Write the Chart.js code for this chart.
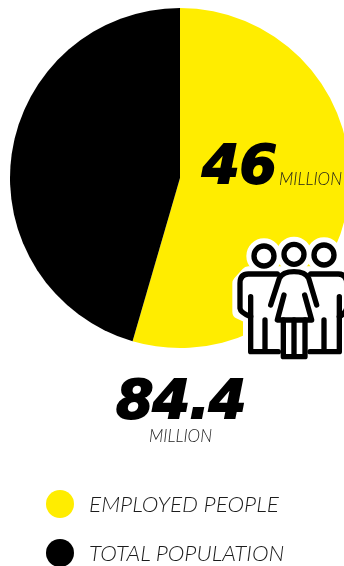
<!DOCTYPE html>
<html>
<head>
<meta charset="utf-8">
<title>Employed people</title>
<script src="https://cdn.jsdelivr.net/npm/chart.js@4"></script>
<style>
  html, body { margin: 0; padding: 0; background: #fff; width: 344px; height: 566px; overflow: hidden; }
  #wrap { position: relative; width: 344px; height: 566px; overflow: hidden; }
  #pie { position: absolute; left: 0; top: 0; }
  .txt { position: absolute; white-space: nowrap; color: #1c1c1c; font-family: Lato, sans-serif; font-style: italic; font-weight: 300; line-height: 1; }
  .big { font-family: "DejaVu Sans", sans-serif; font-weight: 700; color: #000; -webkit-text-stroke: 1.8px #000; }
  .dot { position: absolute; width: 28px; height: 28px; border-radius: 50%; }
  #people { position: absolute; left: 180px; top: 120px; width: 164px; height: 250px; }
</style>
</head>
<body>
<div id="wrap">
  <canvas id="pie" width="360" height="566"></canvas>

  <svg id="people" viewBox="0 0 492 750">
    <g id="halo" fill="#fff" stroke="#fff" stroke-width="46" stroke-linejoin="round">
      <circle cx="252" cy="408" r="30"/>
      <circle cx="342" cy="403" r="30"/>
      <circle cx="432" cy="405" r="30"/>
      <path d="M205,462 H480 L492,690 H390 L375,710 H310 L295,695 H212 V590 L180,575 V490 Z"/>
    </g>
    <g fill="none" stroke="#000" stroke-width="16" stroke-linecap="round" stroke-linejoin="round">
      <circle cx="252" cy="408" r="30"/>
      <circle cx="342" cy="403" r="30"/>
      <circle cx="432" cy="405" r="30"/>
      <!-- left man -->
      <path d="M292,462 H205 Q180,462 180,490 V565 Q182,578 212,590"/>
      <path d="M212,530 V695 H295"/>
      <path d="M255,600 V690"/>
      <!-- right man -->
      <path d="M392,462 H475 Q500,462 500,490 V565 Q498,578 478,590"/>
      <path d="M478,530 V695 H390"/>
      <path d="M432,600 V690"/>
      <!-- woman -->
      <path d="M272,555 L298,475 Q308,455 342,455 Q376,455 386,475 L410,555"/>
      <path d="M312,525 L292,600 H395 L374,525"/>
      <path d="M310,600 V710 H375 V600"/>
      <path d="M342,600 V705"/>
    </g>
  </svg>

  <div class="txt big" id="part" style="left:202px; top:138px; font-size:54px;"></div>
  <div class="txt" id="partUnit" style="left:279px; top:170px; font-size:17px;"></div>
  <div class="txt big" id="whole" style="left:116px; top:373px; font-size:54px; letter-spacing:-1px;"></div>
  <div class="txt" id="wholeUnit" style="left:149px; top:427px; font-size:17px;"></div>
  <div id="legend"></div>
</div>

<script>
  const categories = ['EMPLOYED PEOPLE', 'TOTAL POPULATION'];
  const employed = 46;
  const total = 84.4;
  const sliceValues = [employed, 38.4];
  const sliceColors = ['#ffed00', '#000000'];
  const unit = 'MILLION';

  // big numbers
  document.getElementById('part').textContent = String(employed);
  document.getElementById('partUnit').textContent = unit;
  document.getElementById('whole').textContent = String(total);
  document.getElementById('wholeUnit').textContent = unit;

  // legend rows
  const legendBox = document.getElementById('legend');
  categories.forEach((name, i) => {
    const y = 490 + i * 49;
    legendBox.insertAdjacentHTML('beforeend',
      `<div class="dot" style="left:46px; top:${y}px; background:${sliceColors[i]}"></div>` +
      `<div class="txt" style="left:89px; top:${y + 3}px; font-size:22.5px;">${name}</div>`);
  });

  const ctx = document.getElementById('pie').getContext('2d');
  new Chart(ctx, {
    type: 'pie',
    data: {
      labels: categories,
      datasets: [{
        data: sliceValues,
        backgroundColor: sliceColors,
        borderWidth: 0
      }]
    },
    options: {
      responsive: false,
      animation: false,
      layout: { padding: { left: 10, right: 10, top: 8, bottom: 218 } },
      plugins: {
        legend: { display: false },
        tooltip: { enabled: false }
      }
    }
  });
</script>
</body>
</html>
